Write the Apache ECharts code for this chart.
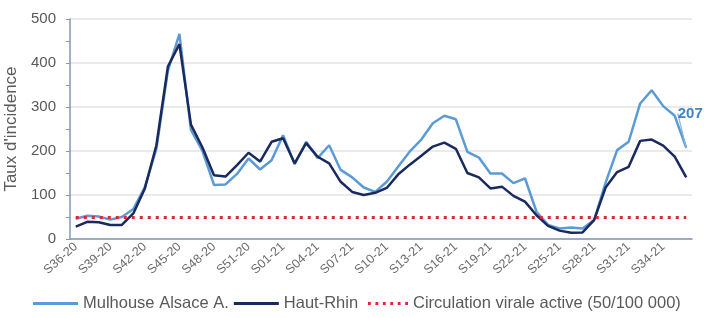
<!DOCTYPE html>
<html>
<head>
<meta charset="utf-8">
<script src="https://cdn.jsdelivr.net/npm/echarts@6/dist/echarts.min.js"></script>
<style>
  html, body { margin: 0; padding: 0; background: #fff; }
  #chart { width: 704px; height: 318px; }
</style>
</head>
<body>
<div id="chart"></div>
<script>
// semaines S36-20 .. S36-21
var weeks = [
  "S36-20","S37-20","S38-20","S39-20","S40-20","S41-20","S42-20","S43-20","S44-20","S45-20",
  "S46-20","S47-20","S48-20","S49-20","S50-20","S51-20","S52-20","S53-20",
  "S01-21","S02-21","S03-21","S04-21","S05-21","S06-21","S07-21","S08-21","S09-21","S10-21",
  "S11-21","S12-21","S13-21","S14-21","S15-21","S16-21","S17-21","S18-21","S19-21","S20-21",
  "S21-21","S22-21","S23-21","S24-21","S25-21","S26-21","S27-21","S28-21","S29-21","S30-21",
  "S31-21","S32-21","S33-21","S34-21","S35-21","S36-21"
];

var mulhouse = [
  46, 53, 51, 44, 50, 68, 118, 205, 382, 466,
  248, 200, 123, 124, 148, 183, 158, 179, 236, 170,
  221, 184, 213, 157, 140, 117, 107, 130, 165, 199,
  226, 263, 280, 272, 198, 185, 149, 149, 127, 138,
  62, 32, 24, 26, 24, 43, 128, 202, 221, 308,
  338, 302, 280, 207
];

var hautRhin = [
  28, 39, 38, 32, 32, 58, 115, 213, 392, 443,
  260, 208, 145, 142, 168, 196, 176, 221, 229, 172,
  218, 187, 172, 130, 107, 100, 105, 116, 147, 169,
  189, 210, 219, 205, 150, 140, 115, 119, 98, 85,
  54, 30, 19, 14, 15, 43, 117, 152, 164, 223,
  226, 212, 187, 140
];

var seuil = 50;

var names = ["Mulhouse Alsace A.", "Haut-Rhin", "Circulation virale active (50/100 000)"];

var chartDom = document.getElementById("chart");
var myChart = echarts.init(chartDom, null, { renderer: "canvas" });

var axisColor = "#8497b0";
var textColor = "#595959";
var font = "Liberation Sans, Arial, sans-serif";
var dotsIcon = "path://M0,0h3v3h-3z M8,0h3v3h-3z M16,0h3v3h-3z M24,0h3v3h-3z M32,0h3v3h-3z M40,0h3v3h-3z";

// label only on the last point of Mulhouse
var mulhouseData = mulhouse.map(function (v, i) {
  if (i === mulhouse.length - 1) {
    return {
      value: v,
      label: {
        show: true,
        position: "top",
        color: "#3d85c6",
        fontWeight: "bold",
        fontSize: 15,
        fontFamily: font
      }
    };
  }
  return v;
});

var legendText = { fontSize: 16.5, color: textColor, fontFamily: font };

var option = {
  animation: false,
  textStyle: { fontFamily: font },
  grid: {
    left: 70,
    right: 12,
    top: 19,
    bottom: 79,
    containLabel: false,
    outerBoundsMode: "none"
  },
  legend: [
    {
      left: 33,
      bottom: 6,
      padding: 0,
      itemWidth: 45,
      itemHeight: 3,
      itemGap: 5,
      textStyle: legendText,
      data: [
        { name: names[0], icon: "rect" },
        { name: names[1], icon: "rect" }
      ]
    },
    {
      left: 368,
      bottom: 6,
      padding: 0,
      itemWidth: 40,
      itemHeight: 3,
      textStyle: legendText,
      data: [{ name: names[2], icon: dotsIcon }]
    }
  ],
  xAxis: {
    type: "category",
    data: weeks,
    boundaryGap: true,
    axisLine: { lineStyle: { color: axisColor, width: 1.5 } },
    axisTick: { interval: 0, length: 4, lineStyle: { color: axisColor } },
    axisLabel: {
      interval: 2,
      rotate: 42,
      fontSize: 12.5,
      color: "#6b6b6b",
      margin: 6
    },
    splitLine: { show: false }
  },
  yAxis: {
    type: "value",
    min: 0,
    max: 500,
    interval: 100,
    name: "Taux d'incidence",
    nameLocation: "middle",
    nameGap: 45,
    nameTextStyle: { fontSize: 17, color: textColor },
    axisLine: { show: true, lineStyle: { color: axisColor, width: 1.5 } },
    axisTick: { show: true, length: 4, lineStyle: { color: axisColor } },
    minorTick: { show: true, splitNumber: 2, length: 4, lineStyle: { color: axisColor } },
    axisLabel: { fontSize: 15, color: textColor, margin: 14 },
    splitLine: { lineStyle: { color: "#e3e3e3", width: 1.5 } }
  },
  series: [
    {
      name: names[0],
      type: "line",
      symbol: "circle",
      symbolSize: 0,
      data: mulhouseData,
      lineStyle: { color: "#5b9bd5", width: 2.5 },
      itemStyle: { color: "#5b9bd5" },
      labelLayout: { dx: 4, dy: -22 },
      labelLine: { show: true, lineStyle: { color: "#8fb3d9", width: 1.2 } },
      z: 2
    },
    {
      name: names[1],
      type: "line",
      symbol: "none",
      data: hautRhin,
      lineStyle: { color: "#1a2a5e", width: 2.5 },
      itemStyle: { color: "#1a2a5e" },
      z: 3
    },
    {
      name: names[2],
      type: "line",
      symbol: "none",
      data: [],
      lineStyle: { color: "#e3262b", width: 3, type: [3, 5] },
      itemStyle: { color: "#e3262b" },
      markLine: {
        silent: true,
        symbol: "none",
        label: { show: false },
        lineStyle: { color: "#e3262b", width: 3, type: [3, 5] },
        data: [[
          { xAxis: weeks[0], yAxis: seuil },
          { xAxis: weeks[weeks.length - 1], yAxis: seuil }
        ]]
      },
      z: 1
    }
  ]
};

option && myChart.setOption(option);
</script>
</body>
</html>
